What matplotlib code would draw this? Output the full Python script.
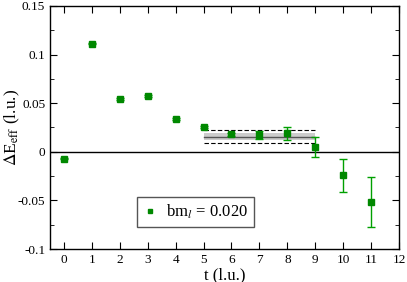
import matplotlib
matplotlib.use("Agg")
import matplotlib.pyplot as plt
from matplotlib.lines import Line2D
from matplotlib.ticker import MultipleLocator

# effective energy difference vs time slice
t = [0, 1, 2, 3, 4, 5, 6, 7, 8, 9, 10, 11]
dE = [-0.0069, 0.1113, 0.0542, 0.0576, 0.0340, 0.0254, 0.0178, 0.0172, 0.0192, 0.0045, -0.0240, -0.0518]
dE_err = [0.0008, 0.0008, 0.0008, 0.0008, 0.0010, 0.0012, 0.0020, 0.0045, 0.0066, 0.0103, 0.0170, 0.0260]

# plateau fit over t = 5..9
fit_range = [5, 9]
fit_val = 0.0155
fit_err = 0.0035
fit_sys = [0.0089, 0.0229]

plt.rcParams["font.family"] = ["Liberation Serif", "DejaVu Serif"]
plt.rcParams["mathtext.fontset"] = "stix"

fig = plt.figure(figsize=(4.07, 2.82), dpi=100)
ax = fig.add_axes([50 / 407, 1 - 249 / 282, 349 / 407, 243 / 282])

ax.axhline(0, color="black", lw=1.0, zorder=1)
ax.fill_between(fit_range, fit_val - fit_err, fit_val + fit_err, color="#cccccc", lw=0, zorder=1)
ax.plot(fit_range, [fit_val, fit_val], color="#555555", lw=1.0, zorder=2)
for y in fit_sys:
    ax.plot(fit_range, [y, y], color="black", lw=0.8, ls=(0, (4, 2)), zorder=2)

ax.errorbar(t, dE, yerr=dE_err, fmt="s", color="#008800", ms=4.5, ecolor="#00a000",
            elinewidth=1.0, capsize=3, capthick=1.0, zorder=3)

ax.set_xlim(-0.5, 12)
ax.set_ylim(-0.1, 0.15)
ax.xaxis.set_major_locator(MultipleLocator(1))
ax.yaxis.set_minor_locator(MultipleLocator(0.025))
ax.set_yticks([-0.1, -0.05, 0, 0.05, 0.1, 0.15])
ax.set_yticklabels(["-0.1", "-0.05", "0", "0.05", "0.1", "0.15"])
ax.tick_params(which="both", direction="in", top=True, right=True, labelsize=9.5)
ax.tick_params(which="major", length=5)
ax.tick_params(which="minor", length=3)
for s in ax.spines.values():
    s.set_linewidth(1.0)

ax.set_xlabel("t (l.u.)", fontsize=12, labelpad=1)
ax.set_ylabel(r"$\Delta$E$_{\rm eff}$ (l.u.)", fontsize=12.5)
ax.yaxis.set_label_coords(-0.08, 0.5)

handle = Line2D([], [], marker="s", ls="none", color="#008800", ms=3.5)
leg = ax.legend([handle], [r"bm$_{\mathit{l}}$ = 0.020"], loc="lower left",
                bbox_to_anchor=(0.226, 0.057), fontsize=12, handlelength=0.8,
                handletextpad=0.6, fancybox=False, framealpha=1, edgecolor="#555555",
                borderpad=0.35)
leg.get_frame().set_linewidth(1.0)

fig.savefig("out.png", dpi=100)
